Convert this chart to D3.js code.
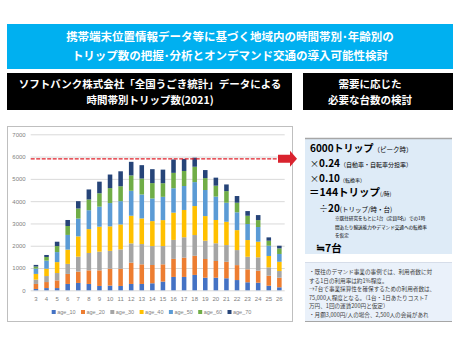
<!DOCTYPE html>
<html>
<head>
<meta charset="utf-8">
<script src="https://cdn.jsdelivr.net/npm/d3@7"></script>
<style>
  body { margin: 0; background: #fff; }
  svg { display: block; font-family: "Noto Sans CJK JP", "Noto Sans", sans-serif; }
</style>
</head>
<body>
<svg id="chart" width="460" height="351"></svg>
<script>
"use strict";

// 時間帯 (3時〜26時)
const hours = [3, 4, 5, 6, 7, 8, 9, 10, 11, 12, 13, 14, 15, 16, 17, 18, 19, 20, 21, 22, 23, 24, 25, 26];
const ageKeys = ["age_10", "age_20", "age_30", "age_40", "age_50", "age_60", "age_70"];
const age10 = [60, 100, 100, 285, 330, 285, 195, 210, 195, 285, 285, 315, 390, 600, 600, 690, 565, 565, 540, 460, 360, 340, 205, 135];
const age20 = [225, 270, 345, 450, 510, 610, 700, 760, 775, 955, 880, 820, 775, 810, 865, 860, 840, 750, 740, 670, 580, 540, 450, 430];
const age30 = [195, 270, 330, 450, 670, 780, 840, 800, 865, 865, 910, 850, 820, 850, 915, 930, 820, 795, 750, 675, 565, 600, 375, 300];
const age40 = [255, 330, 490, 640, 910, 1070, 1120, 1100, 1120, 1240, 1150, 1120, 1165, 1225, 1225, 1300, 1105, 1045, 1045, 895, 750, 700, 510, 415];
const age50 = [240, 360, 450, 660, 800, 850, 900, 1045, 1045, 1120, 1075, 1015, 1045, 1095, 1075, 1075, 1170, 1050, 855, 800, 720, 660, 460, 350];
const age60 = [90, 165, 270, 400, 450, 480, 600, 670, 670, 690, 715, 690, 610, 690, 675, 690, 535, 490, 520, 430, 370, 310, 225, 250];
const age70 = [75, 90, 195, 270, 330, 450, 520, 610, 670, 610, 600, 625, 610, 600, 540, 405, 360, 360, 300, 300, 210, 225, 150, 120];
const yTicks = [0, 1000, 2000, 3000, 4000, 5000, 6000, 7000];
const peakLine = 5900; // 赤い点線 (ピーク)

const colors = ["#4472C4", "#ED7D31", "#A5A5A5", "#FFC000", "#5B9BD5", "#70AD47", "#264478"];

const svg = d3.select("#chart");

// 上のタイトル帯
svg.append("rect").attr("x", 7).attr("y", 24).attr("width", 446).attr("height", 45).attr("fill", "#00B0F0");
const title = svg.append("text").attr("text-anchor", "middle").attr("fill", "#fff")
  .attr("font-size", 11.5).attr("font-weight", "bold");
title.append("tspan").attr("x", 230).attr("y", 41).text("携帯端末位置情報データ等に基づく地域内の時間帯別･年齢別の");
title.append("tspan").attr("x", 230).attr("y", 60).text("トリップ数の把握･分析とオンデマンド交通の導入可能性検討");

// 黒い見出し
svg.append("rect").attr("x", 7).attr("y", 73).attr("width", 285).attr("height", 37).attr("fill", "#000");
svg.append("rect").attr("x", 303).attr("y", 73).attr("width", 150).attr("height", 37).attr("fill", "#000");
const h1 = svg.append("text").attr("text-anchor", "middle").attr("fill", "#fff")
  .attr("font-size", 10.5).attr("font-weight", "bold");
h1.append("tspan").attr("x", 150).attr("y", 88).text("ソフトバンク株式会社「全国うごき統計」データによる");
h1.append("tspan").attr("x", 150).attr("y", 103.5).text("時間帯別トリップ数(2021)");
const h2 = svg.append("text").attr("text-anchor", "middle").attr("fill", "#fff")
  .attr("font-size", 10.5).attr("font-weight", "bold");
h2.append("tspan").attr("x", 370).attr("y", 88).text("需要に応じた");
h2.append("tspan").attr("x", 370).attr("y", 103.5).text("必要な台数の検討");

// グラフの枠
svg.append("rect").attr("x", 7.5).attr("y", 126.5).attr("width", 285).attr("height", 195)
  .attr("fill", "#fff").attr("stroke", "#bfbfbf").attr("stroke-width", 1);

// スケール
const x = d3.scaleBand().domain(hours).range([30.7, 284.6]).paddingInner(0.57).paddingOuter(0.28);
const y = d3.scaleLinear().domain([0, 7000]).range([290.3, 134.3]);

// y軸 (グリッド線付き)
const yAxis = d3.axisLeft(y).tickValues(yTicks).tickSize(-254).tickPadding(5).tickFormat(d3.format("d"));
const yG = svg.append("g").attr("transform", "translate(30.7,0)").call(yAxis);
yG.select(".domain").remove();
yG.selectAll(".tick line").attr("stroke", "#d9d9d9").attr("stroke-width", 1);
yG.selectAll(".tick text").attr("fill", "#7f7f7f").attr("font-size", 6).attr("font-family", "Liberation Sans, Arial, sans-serif");

// x軸
const xAxis = d3.axisBottom(x).tickSize(0).tickPadding(6);
const xG = svg.append("g").attr("transform", "translate(0,290.3)").call(xAxis);
xG.select(".domain").remove();
xG.selectAll(".tick text").attr("fill", "#7f7f7f").attr("font-size", 6).attr("font-family", "Liberation Sans, Arial, sans-serif");

// 積み上げ棒
const series = [age10, age20, age30, age40, age50, age60, age70];
const table = hours.map((h, i) => {
  const row = { hour: h };
  ageKeys.forEach((k, j) => { row[k] = series[j][i]; });
  return row;
});
const stacked = d3.stack().keys(ageKeys)(table);

svg.append("g").selectAll("g")
  .data(stacked)
  .join("g")
  .attr("fill", (d, i) => colors[i])
  .selectAll("rect")
  .data(d => d)
  .join("rect")
  .attr("x", d => x(d.data.hour))
  .attr("y", d => y(d[1]))
  .attr("width", x.bandwidth())
  .attr("height", d => y(d[0]) - y(d[1]));

// ピークの赤い点線
svg.append("line")
  .attr("x1", 30.7).attr("x2", 278)
  .attr("y1", y(peakLine)).attr("y2", y(peakLine))
  .attr("stroke", "#E0202A").attr("stroke-width", 1.2).attr("stroke-dasharray", "4,1.5");

// 矢印
const ay = y(peakLine);
svg.append("path")
  .attr("d", `M278,${ay - 4} L290,${ay - 4} L290,${ay - 8} L297,${ay} L290,${ay + 8} L290,${ay + 4} L278,${ay + 4} Z`)
  .attr("fill", "#D9232E");

// 凡例
const legend = svg.append("g").selectAll("g")
  .data(ageKeys)
  .join("g")
  .attr("transform", (d, i) => `translate(${51.7 + i * 29.3},312)`);
legend.append("rect").attr("x", 0).attr("y", -2).attr("width", 4).attr("height", 4).attr("fill", (d, i) => colors[i]);
legend.append("text").attr("x", 5.5).attr("y", 2).attr("font-size", 5.5).attr("fill", "#7f7f7f")
  .attr("font-family", "Liberation Sans, Arial, sans-serif").text(d => d);

// 右側: 必要台数の検討
svg.append("rect").attr("x", 305).attr("y", 138).attr("width", 147).attr("height", 116).attr("fill", "#DEEBF7");
svg.append("line").attr("x1", 305).attr("x2", 452).attr("y1", 138.5).attr("y2", 138.5).attr("stroke", "#a6a6a6").attr("stroke-width", 1.5);

function richLine(xp, yp, parts) {
  const t = svg.append("text").attr("x", xp).attr("y", yp).attr("fill", "#000");
  parts.forEach(p => {
    t.append("tspan").attr("font-size", p[1]).attr("font-weight", p[2] ? "bold" : "normal").text(p[0]);
  });
  return t;
}
richLine(310, 152, [["6000トリップ", 10, true], ["（ピーク時）", 6.5, false]]);
richLine(310, 167, [["×", 9, false], ["0.24", 10, true], ["（自動車・自転車分担率）", 6, false]]);
richLine(310, 182, [["×", 9, false], ["0.10", 10, true], ["（転換率）", 5, false]]);
richLine(309, 196, [["＝144トリップ", 10.5, true], ["(/時)", 5.5, false]]);
richLine(319, 212, [["÷", 9, false], ["20", 10, true], ["(トリップ/時・台)", 6.5, false]]);

const note = svg.append("text").attr("font-size", 4.6).attr("fill", "#000");
note.append("tspan").attr("x", 335).attr("y", 220).text("※既往研究をもとに1台（定員8名）での1時");
note.append("tspan").attr("x", 335).attr("y", 228.5).text("間あたり輸送能力やデマンド交通への転換率");
note.append("tspan").attr("x", 335).attr("y", 237).text("を仮定");
richLine(316, 252, [["≒7台", 10.5, true]]);

svg.append("rect").attr("x", 305).attr("y", 262).attr("width", 147).attr("height", 60).attr("fill", "#EAF1FA");
svg.append("line").attr("x1", 305).attr("x2", 452).attr("y1", 262.5).attr("y2", 262.5).attr("stroke", "#d0d8e4").attr("stroke-width", 0.8);
svg.append("line").attr("x1", 305).attr("x2", 452).attr("y1", 321.5).attr("y2", 321.5).attr("stroke", "#a6a6a6").attr("stroke-width", 1.2);

const memo = ["・既往のデマンド事業の事例では、利用者数に対",
  "する1日の利用率は約1%程度。",
  "→7台で事業採算性を確保するための利用者数は、",
  "75,000人程度となる。（1台・1日あたりコスト7",
  "万円、1回の運賃200円と仮定）",
  "・月額3,000円/人の場合、2,500人の会員があれ"];
const memoText = svg.append("text").attr("font-size", 5.6).attr("fill", "#404040");
memo.forEach((m, i) => {
  memoText.append("tspan").attr("x", 309).attr("y", 274 + i * 8.6).text(m);
});
</script>
</body>
</html>
